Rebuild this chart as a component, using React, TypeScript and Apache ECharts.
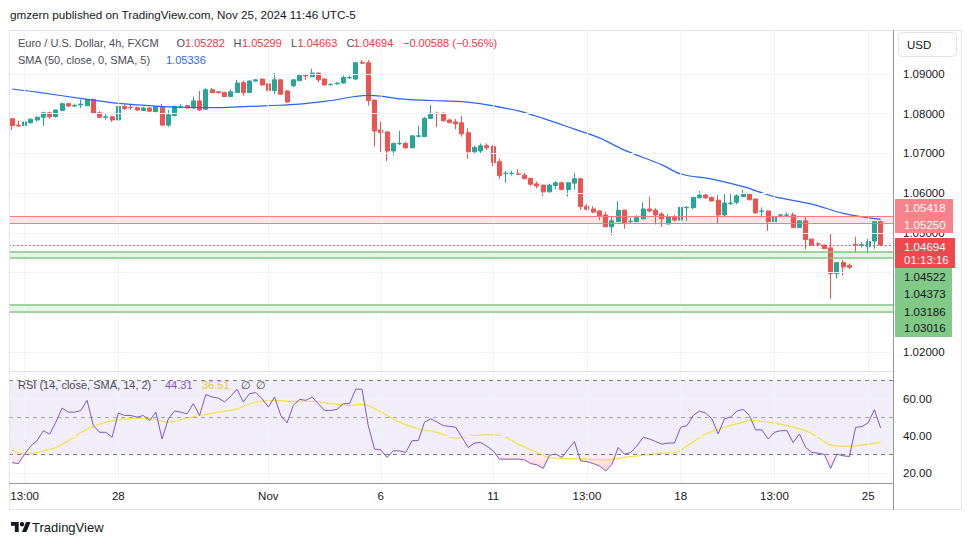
import React, { useEffect, useRef } from "react";
import * as echarts from "echarts";

// ---- Candles (EUR/USD 4h): index 0..139 ----
const opens = [
  1.0787, 1.0771, 1.0770, 1.0777, 1.0784, 1.0791, 1.0802, 1.0792, 1.0808, 1.0825,
  1.0819, 1.0822, 1.0820, 1.0836, 1.0802, 1.0791, 1.0792, 1.0784, 1.0818, 1.0816,
  1.0815, 1.0808, 1.0814, 1.0805, 1.0816, 1.0771, 1.0795, 1.0817, 1.0820, 1.0814,
  1.0832, 1.0811, 1.0860, 1.0855, 1.0853, 1.0843, 1.0853, 1.0878, 1.0853, 1.0882,
  1.0887, 1.0875, 1.0858, 1.0885, 1.0857, 1.0870, 1.0883, 1.0897, 1.0893, 1.0902,
  1.0887, 1.0873, 1.0875, 1.0877, 1.0890, 1.0887, 1.0929, 1.0928, 1.0834, 1.0759,
  1.0754, 1.0706, 1.0724, 1.0725, 1.0714, 1.0743, 1.0742, 1.0788, 1.0801, 1.0801,
  1.0784, 1.0779, 1.0777, 1.0752, 1.0704, 1.0706, 1.0719, 1.0717, 1.0679, 1.0649,
  1.0649, 1.0648, 1.0645, 1.0637, 1.0623, 1.0620, 1.0603, 1.0619, 1.0626, 1.0609,
  1.0625, 1.0636, 1.0567, 1.0560, 1.0555, 1.0545, 1.0515, 1.0528, 1.0557, 1.0528,
  1.0528, 1.0535, 1.0560, 1.0557, 1.0547, 1.0522, 1.0539, 1.0532, 1.0563, 1.0563,
  1.0588, 1.0595, 1.0589, 1.0582, 1.0545, 1.0574, 1.0577, 1.0591, 1.0598, 1.0585,
  1.0554, 1.0555, 1.0528, 1.0544, 1.0544, 1.0545, 1.0513, 1.0530, 1.0484, 1.0472,
  1.0469, 1.0462, 1.0397, 1.0425, 1.0418, 1.0471, 1.0468, 1.0465, 1.0479, 1.05282,
];
const highs = [
  1.0788, 1.0782, 1.0781, 1.0788, 1.0793, 1.0805, 1.0805, 1.0810, 1.0828, 1.0828,
  1.0825, 1.0835, 1.0837, 1.0837, 1.0806, 1.0799, 1.0795, 1.0819, 1.0824, 1.0825,
  1.0818, 1.0817, 1.0816, 1.0819, 1.0825, 1.0809, 1.0820, 1.0824, 1.0822, 1.0843,
  1.0857, 1.0865, 1.0865, 1.0857, 1.0855, 1.0861, 1.0885, 1.0883, 1.0884, 1.0887,
  1.0889, 1.0876, 1.0902, 1.0887, 1.0859, 1.0887, 1.0900, 1.0900, 1.0913, 1.0903,
  1.0889, 1.0876, 1.0879, 1.0896, 1.0896, 1.0930, 1.0935, 1.0935, 1.0835, 1.0780,
  1.0756, 1.0727, 1.0756, 1.0728, 1.0746, 1.0769, 1.0792, 1.0822, 1.0805, 1.0803,
  1.0787, 1.0786, 1.0794, 1.0763, 1.0719, 1.0725, 1.0725, 1.0721, 1.0687, 1.0656,
  1.0656, 1.0660, 1.0651, 1.0638, 1.0629, 1.0621, 1.0623, 1.0630, 1.0629, 1.0627,
  1.0651, 1.0638, 1.0572, 1.0567, 1.0556, 1.0553, 1.0542, 1.0580, 1.0558, 1.0538,
  1.0544, 1.0577, 1.0591, 1.0562, 1.0552, 1.0547, 1.0545, 1.0570, 1.0567, 1.0590,
  1.0605, 1.0598, 1.0591, 1.0595, 1.0598, 1.0599, 1.0597, 1.0608, 1.0599, 1.0586,
  1.0564, 1.0556, 1.0542, 1.0547, 1.0551, 1.0551, 1.0531, 1.0541, 1.0485, 1.0476,
  1.0470, 1.0497, 1.0426, 1.0431, 1.0423, 1.0490, 1.0476, 1.0485, 1.0528, 1.05299,
];
const lows = [
  1.0759, 1.0767, 1.0765, 1.0775, 1.0780, 1.0769, 1.0787, 1.0790, 1.0806, 1.0817,
  1.0818, 1.0814, 1.0819, 1.0800, 1.0789, 1.0784, 1.0779, 1.0779, 1.0809, 1.0809,
  1.0807, 1.0806, 1.0805, 1.0804, 1.0769, 1.0767, 1.0793, 1.0814, 1.0813, 1.0813,
  1.0807, 1.0810, 1.0852, 1.0850, 1.0842, 1.0842, 1.0852, 1.0845, 1.0852, 1.0881,
  1.0871, 1.0857, 1.0849, 1.0847, 1.0828, 1.0867, 1.0881, 1.0885, 1.0892, 1.0879,
  1.0871, 1.0870, 1.0873, 1.0876, 1.0887, 1.0885, 1.0924, 1.0820, 1.0717, 1.0703,
  1.0681, 1.0696, 1.0721, 1.0711, 1.0713, 1.0740, 1.0741, 1.0787, 1.0766, 1.0780,
  1.0776, 1.0761, 1.0742, 1.0687, 1.0698, 1.0701, 1.0708, 1.0668, 1.0635, 1.0626,
  1.0644, 1.0645, 1.0635, 1.0618, 1.0612, 1.0593, 1.0602, 1.0610, 1.0608, 1.0591,
  1.0609, 1.0557, 1.0556, 1.0549, 1.0532, 1.0514, 1.0494, 1.0527, 1.0510, 1.0524,
  1.0527, 1.0534, 1.0551, 1.0521, 1.0515, 1.0521, 1.0528, 1.0531, 1.0530, 1.0559,
  1.0587, 1.0585, 1.0579, 1.0522, 1.0540, 1.0570, 1.0572, 1.0590, 1.0582, 1.0549,
  1.0540, 1.0505, 1.0523, 1.0540, 1.0540, 1.0512, 1.0512, 1.0459, 1.0468, 1.0465,
  1.0459, 1.0333, 1.0385, 1.0392, 1.0408, 1.0450, 1.0463, 1.0448, 1.0460, 1.04663,
];
const closes = [
  1.0770, 1.0769, 1.0779, 1.0786, 1.0791, 1.0802, 1.0792, 1.0809, 1.0825, 1.0819,
  1.0820, 1.0824, 1.0836, 1.0801, 1.0791, 1.0792, 1.0784, 1.0818, 1.0813, 1.0815,
  1.0809, 1.0814, 1.0806, 1.0818, 1.0771, 1.0797, 1.0818, 1.0818, 1.0814, 1.0832,
  1.0809, 1.0860, 1.0853, 1.0853, 1.0843, 1.0855, 1.0877, 1.0853, 1.0882, 1.0885,
  1.0872, 1.0858, 1.0885, 1.0849, 1.0829, 1.0885, 1.0897, 1.0895, 1.0902, 1.0885,
  1.0872, 1.0874, 1.0877, 1.0891, 1.0891, 1.0928, 1.0927, 1.0833, 1.0756, 1.0752,
  1.0706, 1.0725, 1.0725, 1.0714, 1.0744, 1.0744, 1.0788, 1.0801, 1.0800, 1.0782,
  1.0777, 1.0774, 1.0749, 1.0704, 1.0715, 1.0719, 1.0714, 1.0677, 1.0644, 1.0650,
  1.0650, 1.0647, 1.0636, 1.0622, 1.0618, 1.0603, 1.0620, 1.0626, 1.0609, 1.0626,
  1.0636, 1.0566, 1.0559, 1.0552, 1.0543, 1.0515, 1.0530, 1.0557, 1.0525, 1.0529,
  1.0538, 1.0560, 1.0555, 1.0545, 1.0535, 1.0540, 1.0532, 1.0564, 1.0564, 1.0589,
  1.0595, 1.0588, 1.0580, 1.0545, 1.0575, 1.0575, 1.0593, 1.0598, 1.0583, 1.0550,
  1.0555, 1.0528, 1.0541, 1.0545, 1.0545, 1.0513, 1.0530, 1.0483, 1.0469, 1.0471,
  1.0460, 1.0397, 1.0425, 1.0414, 1.0413, 1.0470, 1.0470, 1.0478, 1.0528, 1.04694,
];

// ---- SMA(50) read at sample candles ----
const smaIndex = [0, 4, 12, 17, 23, 27, 33, 38, 41, 46, 51, 57, 59, 62, 67, 72, 76, 81, 85, 90, 94, 98, 104, 107, 112, 117, 122, 128, 133, 139];
const smaValues = [
  1.0862, 1.0854, 1.0836, 1.0826, 1.0819, 1.0816, 1.0815, 1.0818, 1.0820, 1.0824,
  1.0833, 1.0846, 1.0844, 1.0837, 1.0833, 1.0830, 1.0822, 1.0807, 1.0788, 1.0761,
  1.0739, 1.0708, 1.0671, 1.0648, 1.0635, 1.0616, 1.0591, 1.0572, 1.0549, 1.05336,
];

// ---- RSI(14) per candle ----
const rsiValues = [
  25.6, 25.1, 30.2, 34.7, 37.5, 42.9, 41, 47.5, 55.1, 52.9,
  52.9, 53.8, 59.3, 45.6, 42, 42, 39.3, 52.4, 51.1, 51.1,
  50.2, 51.1, 48.4, 52.9, 38.4, 49.3, 53.5, 52.9, 52, 57.5,
  51.1, 62.4, 61.1, 60.5, 58.4, 61.5, 65.3, 58.4, 62.9, 63.5,
  60.2, 55.6, 61.1, 51.1, 47.1, 56.5, 59.8, 59.3, 61.1, 57.5,
  53.8, 53.8, 54.4, 57.5, 57.5, 65.3, 65.3, 45.6, 32.9, 32.5,
  28.4, 32, 32, 31.1, 37.5, 37.5, 47.5, 49.3, 47.5, 45.6,
  45.2, 44.7, 39.3, 33.8, 36.2, 36.5, 34.4, 32, 27.5, 27.5,
  27.5, 27.5, 27.1, 25.1, 24.4, 22.5, 29.6, 30.2, 28.4, 32.9,
  36.9, 26.5, 26.2, 25.1, 23.8, 21.1, 24.7, 33.8, 30.2, 31.1,
  34.7, 39.3, 38.4, 37, 35.6, 36.2, 36.2, 44.7, 45.6, 51.1,
  53.5, 52.4, 49.3, 41.1, 49.3, 50.2, 53.5, 54.4, 51.1, 43.3,
  43.3, 38.4, 42, 42.9, 42.9, 36.5, 41.1, 33.8, 31.1, 30.7,
  30, 22.5, 30.2, 29.3, 28.9, 44.7, 45.1, 47.1, 54.2, 44.31,
];

// ---- RSI-based MA(14) read at sample candles ----
const rsiMaIndex = [0, 2, 4, 7, 9, 12, 15, 18, 21, 23, 25, 27, 30, 33, 36, 39, 42, 45, 48, 51, 54, 56, 59, 62, 65, 68, 71, 74, 77, 79, 81, 84, 86, 89, 92, 95, 98, 101, 104, 106, 108, 111, 114, 117, 118, 121, 124, 127, 129, 131, 134, 136, 139];
const rsiMaValues = [
  32.4, 30.2, 31.1, 33.8, 37.5, 43.8, 47.5, 49.3, 49.6, 48.9, 47.5, 48.9, 51.1, 52.9,
  54.7, 58.4, 59.3, 58.7, 58.7, 57.5, 56.5, 57.1, 52.9, 47.5, 43.8, 42, 38.9, 40.2,
  40.7, 39.3, 35.6, 31.1, 28.4, 27.8, 27.5, 27.1, 28.4, 29.6, 30.7, 31.1, 34.7, 41.1,
  44.7, 47.5, 48.4, 47.5, 45.6, 42.9, 39.3, 35.1, 34.4, 35.1, 36.51,
];

// ---- Axis ticks ----
const timeTickIndex = [2, 17, 41, 59, 77, 92, 107, 122, 137];
const timeTickLabels = ["13:00", "28", "Nov", "6", "11", "13:00", "18", "13:00", "25"];
const priceGridTicks = [1.02, 1.03, 1.04, 1.05, 1.06, 1.07, 1.08, 1.09];
const priceLabelTicks = [1.02, 1.05, 1.06, 1.07, 1.08, 1.09];
const rsiTicks = [20, 40, 60];
const rsiLevels = [70, 50, 30];
const oversold = 30;

// ---- Drawn zones and labels ----
const resistanceZone = [1.05418, 1.0525];
const supportZones = [
  [1.04522, 1.04373],
  [1.03186, 1.03016],
];
const lastPrice = 1.04694;
const countdown = "01:13:16";
const smaLast = 1.05336;
const rsiLast = 44.31;
const rsiMaLast = 36.51;
const ohlcValues = [1.05282, 1.05299, 1.04663, 1.04694];
const changeText = "\u22120.00588 (\u22120.56%)";

const FONT = '"Liberation Sans", Arial, sans-serif';
const RED = "#F23645";
const GREEN_C = "#26A69A";
const RED_C = "#EF5350";
const GRIDC = "#F0F3FA";

echarts.graphic.registerShape(
  "tvlogo",
  echarts.graphic.extendPath(
    "M14 22H7V11H0V4h14v18zM28 22h-8l7.5-18h8L28 22zM24 8a4 4 0 1 1-8 0a4 4 0 1 1 8 0z",
    {}
  )
);

function txt(text: string, x: number, y: number, fill: string, size = 11, weight: any = "normal") {
  return {
    type: "text",
    x,
    y,
    z: 100,
    silent: true,
    style: { text, fill, fontSize: size, fontFamily: FONT, fontWeight: weight, verticalAlign: "middle", textVerticalAlign: "middle" },
  };
}
function hline(x1: number, x2: number, y: number, stroke: string) {
  return { type: "line", z: 90, silent: true, shape: { x1, y1: y, x2, y2: y }, style: { stroke, lineWidth: 1 } };
}
function vline(x: number, y1: number, y2: number, stroke: string) {
  return { type: "line", z: 90, silent: true, shape: { x1: x, y1, x2: x, y2 }, style: { stroke, lineWidth: 1 } };
}

export default function App() {
  const ref = useRef<HTMLDivElement>(null);
  useEffect(() => {
    if (!ref.current) return;
    const chart = echarts.init(ref.current, null, { renderer: "svg" });
    const X_MIN = -0.5;
    const X_MAX = 140.98;
    const candleData = opens.map((o, i) => [i, o, closes[i], lows[i], highs[i]]);
    const lineOff = { show: false };
    const noLabel = { show: false };
    const mlBase = { symbol: ["none", "none"], silent: true, label: noLabel, precision: 6 };

    // oversold fill: polygon between the 30 level and the RSI line where it dips below 30
    const renderOversold = (params: any, api: any) => {
      const pts: number[][] = [];
      const first = api.coord([0, oversold]);
      pts.push(first);
      rsiValues.forEach((v, i) => {
        pts.push(api.coord([i, Math.min(v, oversold)]));
      });
      pts.push(api.coord([rsiValues.length - 1, oversold]));
      return {
        type: "polygon",
        shape: { points: pts },
        style: {
          fill: new echarts.graphic.LinearGradient(0, 0, 0, 1, [
            { offset: 0, color: "rgba(242,54,69,0.08)" },
            { offset: 1, color: "rgba(242,54,69,0.22)" },
          ]),
        },
        silent: true,
      };
    };

    const option: any = {
      animation: false,
      backgroundColor: "#ffffff",
      textStyle: { fontFamily: FONT },
      grid: [
        { left: 9, top: 31, width: 884, height: 340 },
        { left: 9, top: 372, width: 884, height: 111 },
      ],
      xAxis: [
        { type: "value", gridIndex: 0, min: X_MIN, max: X_MAX, axisLine: lineOff, axisTick: lineOff, axisLabel: noLabel, splitLine: lineOff },
        {
          type: "value", gridIndex: 1, min: X_MIN, max: X_MAX,
          axisLine: lineOff, axisTick: lineOff, splitLine: lineOff,
          axisLabel: {
            customValues: timeTickIndex,
            formatter: (v: number) => {
              const k = timeTickIndex.indexOf(Math.round(v));
              return k >= 0 ? timeTickLabels[k] : "";
            },
            color: "#131722", fontSize: 11.5, margin: 7, fontFamily: FONT,
          },
        },
      ],
      yAxis: [
        {
          type: "value", gridIndex: 0, position: "right", min: 1.0152, max: 1.1008,
          axisLine: lineOff, axisTick: lineOff, splitLine: lineOff,
          axisLabel: { customValues: priceLabelTicks, formatter: (v: number) => v.toFixed(5), color: "#131722", fontSize: 11.5, margin: 10, align: "left", fontFamily: FONT },
        },
        {
          type: "value", gridIndex: 1, position: "right", min: 14.6, max: 74.6,
          axisLine: lineOff, axisTick: lineOff, splitLine: lineOff,
          axisLabel: { customValues: rsiTicks, formatter: (v: number) => v.toFixed(2), color: "#131722", fontSize: 11.5, margin: 10, align: "left", fontFamily: FONT },
        },
      ],
      series: [
        // main pane grid + zones
        {
          type: "line", xAxisIndex: 0, yAxisIndex: 0, z: 1, data: [[0, 1.05]], showSymbol: false, lineStyle: { opacity: 0 }, silent: true,
          markLine: {
            ...mlBase,
            lineStyle: { color: GRIDC, width: 1, type: "solid" },
            data: [...priceGridTicks.map((p) => ({ yAxis: p })), ...timeTickIndex.map((i) => ({ xAxis: i }))],
          },
          markArea: {
            silent: true,
            data: [
              [{ yAxis: resistanceZone[0], itemStyle: { color: "rgba(242,54,69,0.14)" } }, { yAxis: resistanceZone[1] }],
              ...supportZones.map((z) => [{ yAxis: z[0], itemStyle: { color: "rgba(76,175,80,0.14)" } }, { yAxis: z[1] }]),
            ],
          },
        },
        {
          type: "line", xAxisIndex: 0, yAxisIndex: 0, z: 2, data: [[0, 1.05]], showSymbol: false, lineStyle: { opacity: 0 }, silent: true,
          markLine: {
            ...mlBase,
            data: [
              ...resistanceZone.map((p) => ({ yAxis: p, lineStyle: { color: "#F77C80", width: 1.2, type: "solid" } })),
              ...supportZones.flat().map((p) => ({ yAxis: p, lineStyle: { color: "#81C784", width: 1.6, type: "solid" } })),
              { yAxis: lastPrice, lineStyle: { color: RED, width: 1, type: [1.5, 2.5] } },
            ],
          },
        },
        {
          type: "candlestick", xAxisIndex: 0, yAxisIndex: 0, z: 3,
          data: candleData, encode: { x: 0, y: [1, 2, 3, 4] }, barWidth: 4.5,
          itemStyle: { color: GREEN_C, color0: RED_C, borderColor: GREEN_C, borderColor0: RED_C, borderWidth: 1 },
        },
        {
          type: "line", xAxisIndex: 0, yAxisIndex: 0, z: 4,
          data: smaIndex.map((i, k) => [i, smaValues[k]]), smooth: 0.35, showSymbol: false,
          lineStyle: { color: "#2962FF", width: 1.2 },
        },
        // RSI pane
        {
          type: "line", xAxisIndex: 1, yAxisIndex: 1, z: 1, data: [[0, 50]], showSymbol: false, lineStyle: { opacity: 0 }, silent: true,
          markLine: {
            ...mlBase,
            lineStyle: { color: GRIDC, width: 1, type: "solid" },
            data: [...rsiTicks.map((p) => ({ yAxis: p })), ...timeTickIndex.map((i) => ({ xAxis: i }))],
          },
          markArea: { silent: true, data: [[{ yAxis: 30, itemStyle: { color: "rgba(126,87,194,0.1)" } }, { yAxis: 70 }]] },
        },
        {
          type: "line", xAxisIndex: 1, yAxisIndex: 1, z: 2, data: [[0, 50]], showSymbol: false, lineStyle: { opacity: 0 }, silent: true,
          markLine: {
            ...mlBase,
            data: rsiLevels.map((v) => ({ yAxis: v, lineStyle: { color: v === 50 ? "#A3A6AF" : "#787B86", width: 1, type: [4, 4] } })),
          },
        },
        {
          type: "custom", xAxisIndex: 1, yAxisIndex: 1, z: 2, silent: true,
          data: [[0, oversold]], renderItem: renderOversold, clip: true,
        },
        {
          type: "line", xAxisIndex: 1, yAxisIndex: 1, z: 4,
          data: rsiMaIndex.map((i, k) => [i, rsiMaValues[k]]), smooth: 0.4, showSymbol: false,
          lineStyle: { color: "#F5E040", width: 1.2 },
        },
        {
          type: "line", xAxisIndex: 1, yAxisIndex: 1, z: 5,
          data: rsiValues.map((v, i) => [i, v]), showSymbol: false,
          lineStyle: { color: "#7E57C2", width: 1 },
        },
      ],
      graphic: [
        txt("gmzern published on TradingView.com, Nov 25, 2024 11:46 UTC-5", 10, 14.5, "#131722", 11.7),
        // frame
        hline(9, 962, 30.5, "#E0E3EB"),
        vline(9.5, 30, 510, "#E0E3EB"),
        hline(9, 962, 509.5, "#E0E3EB"),
        vline(961.5, 30, 510, "#E0E3EB"),
        hline(9, 893, 371.5, "#E0E3EB"),
        hline(9, 893, 483.5, "#9598A1"),
        vline(893.5, 30, 510, "#9598A1"),
        // legend line 1
        txt("Euro / U.S. Dollar, 4h, FXCM", 18, 42.5, "#4A4D57"),
        txt("O", 176.5, 42.5, "#4A4D57"),
        txt(ohlcValues[0].toFixed(5), 185, 42.5, RED),
        txt("H", 233.5, 42.5, "#4A4D57"),
        txt(ohlcValues[1].toFixed(5), 242, 42.5, RED),
        txt("L", 291, 42.5, "#4A4D57"),
        txt(ohlcValues[2].toFixed(5), 297.5, 42.5, RED),
        txt("C", 346.5, 42.5, "#4A4D57"),
        txt(ohlcValues[3].toFixed(5), 353.5, 42.5, RED),
        txt(changeText, 403, 42.5, RED),
        // legend line 2
        txt("SMA (50, close, 0, SMA, 5)", 18, 59.5, "#4A4D57"),
        txt(smaLast.toFixed(5), 166, 59.5, "#2962FF"),
        // RSI legend
        txt("RSI (14, close, SMA, 14, 2)", 18, 385, "#4A4D57"),
        txt(rsiLast.toFixed(2), 165, 385, "#7E57C2"),
        txt(rsiMaLast.toFixed(2), 202, 385, "#E8C830"),
        txt("\u2205", 241, 385, "#4A4D57"),
        txt("\u2205", 256, 385, "#4A4D57"),
        // USD box
        { type: "rect", z: 95, silent: true, shape: { x: 898.5, y: 32.5, width: 58, height: 24, r: 4 }, style: { fill: "#fff", stroke: "#E0E3EB", lineWidth: 1 } },
        txt("USD", 907, 44.5, "#131722", 11.5),
        // price tags
        { type: "rect", z: 95, silent: true, shape: { x: 895, y: 199, width: 58, height: 34 }, style: { fill: "#F7828A" } },
        txt(resistanceZone[0].toFixed(5), 904, 208, "#ffffff", 11.5),
        txt(resistanceZone[1].toFixed(5), 904, 225, "#ffffff", 11.5),
        { type: "rect", z: 95, silent: true, shape: { x: 895, y: 238, width: 60, height: 30 }, style: { fill: "#F0474F" } },
        txt(lastPrice.toFixed(5), 904, 246.5, "#ffffff", 11.5),
        txt(countdown, 904, 260, "#ffffff", 11.5),
        { type: "rect", z: 95, silent: true, shape: { x: 895, y: 268, width: 57, height: 69 }, style: { fill: "#82C886" } },
        txt(supportZones[0][0].toFixed(5), 904, 277, "#131722", 11.5),
        txt(supportZones[0][1].toFixed(5), 904, 294, "#131722", 11.5),
        txt(supportZones[1][0].toFixed(5), 904, 311.5, "#131722", 11.5),
        txt(supportZones[1][1].toFixed(5), 904, 328, "#131722", 11.5),
        // footer
        { type: "tvlogo", z: 100, silent: true, x: 11, y: 519.8, scaleX: 0.55, scaleY: 0.55, style: { fill: "#131722" } },
        txt("TradingView", 32, 527.5, "#131722", 13),
      ],
    };
    chart.setOption(option);
    return () => chart.dispose();
  }, []);
  return <div ref={ref} style={{ width: 970, height: 545, position: "absolute", left: 0, top: 0 }} />;
}
